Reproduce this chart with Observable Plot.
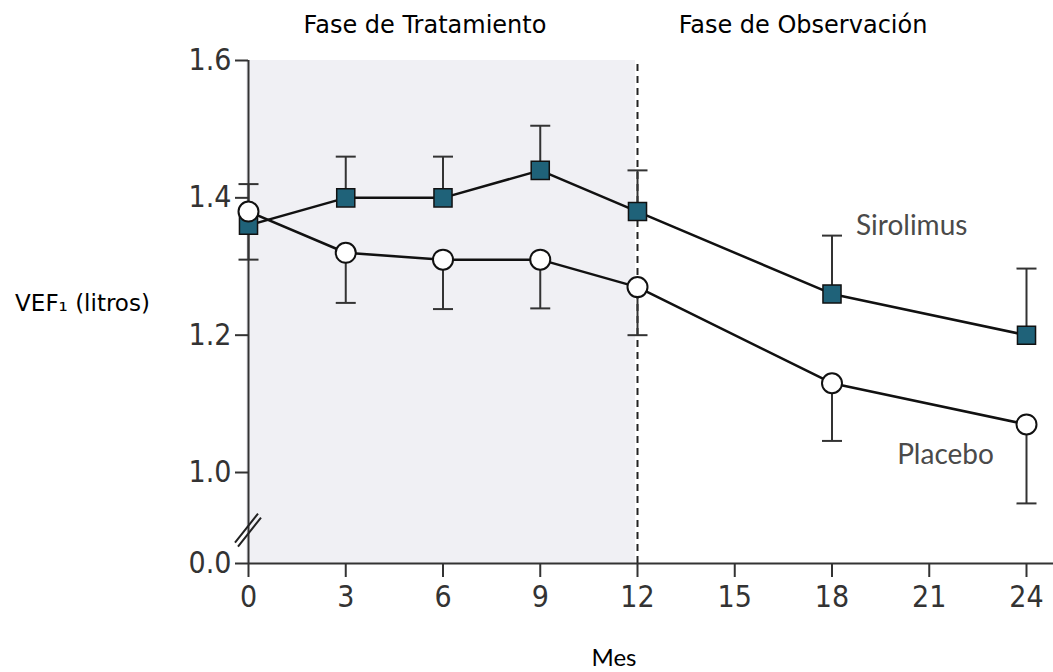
<!DOCTYPE html>
<html>
<head>
<meta charset="utf-8">
<script src="https://cdn.jsdelivr.net/npm/d3@7"></script>
<script src="https://cdn.jsdelivr.net/npm/@observablehq/plot@0.6"></script>
<style>
  html, body { margin: 0; padding: 0; background: #fff; }
  #chart svg { display: block; overflow: visible; }
</style>
</head>
<body>
<div id="chart"></div>
<script>
// ---- data ----
const months = [0, 3, 6, 9, 12, 18, 24];
const sirolimus = [1.36, 1.40, 1.40, 1.44, 1.38, 1.26, 1.20];
const sirolimusUpper = [1.42, 1.46, 1.46, 1.505, 1.44, 1.345, 1.297];
const placebo = [1.38, 1.32, 1.31, 1.31, 1.27, 1.13, 1.07];
const placeboLower = [1.31, 1.247, 1.238, 1.239, 1.20, 1.046, 0.955];

const xTicks = [0, 3, 6, 9, 12, 15, 18, 21, 24];
const yTicks = [1.0, 1.2, 1.4, 1.6];
const yBase = 0.8675;          // position of the broken-axis "0.0" tick
const yBreak = 0.917;          // where the axis-break mark sits
const treatmentEnd = 12;

const phaseLabels = ["Fase de Tratamiento", "Fase de Observación"];
const seriesNames = ["Sirolimus", "Placebo"];
const yLabel = "VEF\u2081 (litros)";
const xLabel = "Mes";

// ---- tables ----
const sRows = months.map((m, i) => ({month: m, value: sirolimus[i], bar: sirolimusUpper[i]}));
const pRows = months.map((m, i) => ({month: m, value: placebo[i], bar: placeboLower[i]}));

const capSymbol = {
  draw(context, size) {
    const r = Math.sqrt(size / Math.PI);
    context.moveTo(-r, 0);
    context.lineTo(r, 0);
  }
};
const breakSymbol = {
  draw(context, size) {
    const r = Math.sqrt(size / Math.PI) / 14;
    context.moveTo(-13.5 * r, 13 * r); context.lineTo(9.5 * r, -16 * r);
    context.moveTo(-10.5 * r, 17 * r); context.lineTo(12.5 * r, -12 * r);
  }
};

const tickFont = "'Liberation Sans Narrow', 'DejaVu Sans Condensed', sans-serif";
const labelFont = "Lato, 'Open Sans', sans-serif";
const textFont = "'DejaVu Sans', sans-serif";

const chart = Plot.plot({
  width: 1053,
  height: 672,
  marginTop: 60,
  marginBottom: 109,
  marginLeft: 248,
  marginRight: 0,
  x: {domain: [0, 24], range: [248, 1026]},
  y: {domain: [yBase, 1.6]},
  style: {background: "#fff"},
  marks: [
    // treatment phase shading
    Plot.rect([treatmentEnd], {x1: 0, x2: d => d, y1: yBase, y2: 1.6, fill: "#f0f0f4", dx: -2}),
    // phase divider
    Plot.ruleX([treatmentEnd], {y1: yBase, y2: 1.6, stroke: "#222", strokeWidth: 2, strokeDasharray: "7,5"}),
    // axes lines
    Plot.ruleY([yBase], {stroke: "#333", strokeWidth: 2}),
    Plot.ruleX([0], {y1: yBase, y2: 1.6, stroke: "#333", strokeWidth: 2}),
    Plot.dot([yBreak], {x: 0, y: d => d, symbol: breakSymbol, r: 14, fill: "none", stroke: "#222", strokeWidth: 2}),
    Plot.axisY([yBase, ...yTicks], {
      tickFormat: d => d === yBase ? "0.0" : d.toFixed(1),
      tickSize: 13, tickPadding: 4, fontSize: 30, fontFamily: tickFont,
      color: "#333", strokeWidth: 2, label: null
    }),
    Plot.axisX(xTicks, {
      tickSize: 14, tickPadding: 8, fontSize: 30, fontFamily: tickFont,
      color: "#333", strokeWidth: 2, label: null
    }),
    // error bars
    Plot.link(sRows, {x1: "month", x2: "month", y1: "value", y2: "bar", stroke: "#333", strokeWidth: 2}),
    Plot.link(pRows, {x1: "month", x2: "month", y1: "value", y2: "bar", stroke: "#333", strokeWidth: 2}),
    Plot.dot(sRows, {x: "month", y: "bar", symbol: capSymbol, r: 10, fill: "none", stroke: "#333", strokeWidth: 2}),
    Plot.dot(pRows, {x: "month", y: "bar", symbol: capSymbol, r: 10, fill: "none", stroke: "#333", strokeWidth: 2}),
    // lines
    Plot.line(sRows, {x: "month", y: "value", stroke: "#111", strokeWidth: 2.5}),
    Plot.line(pRows, {x: "month", y: "value", stroke: "#111", strokeWidth: 2.5}),
    // markers
    Plot.dot(sRows, {x: "month", y: "value", symbol: "square", r: 10.2, fill: "#1f6279", stroke: "#111", strokeWidth: 1.5}),
    Plot.dot(pRows, {x: "month", y: "value", r: 10, fill: "white", stroke: "#111", strokeWidth: 2}),
    // series labels
    Plot.text([sRows[5]], {x: "month", y: "value", text: () => seriesNames[0], textAnchor: "start", dx: 24, dy: -68,
      fontSize: 28, fontFamily: labelFont, fill: "#4a4a4a"}),
    Plot.text([pRows[6]], {x: "month", y: "value", text: () => seriesNames[1], textAnchor: "middle", dx: -81, dy: 31,
      fontSize: 28, fontFamily: labelFont, fill: "#4a4a4a"}),
    // phase labels
    Plot.text([phaseLabels[0]], {x: 6, frameAnchor: "top", dx: -18, dy: -35, text: d => d,
      fontSize: 24, fontFamily: textFont, fill: "#000", textAnchor: "middle", lineAnchor: "middle"}),
    Plot.text([phaseLabels[1]], {x: 18, frameAnchor: "top", dx: -29, dy: -35, text: d => d,
      fontSize: 24, fontFamily: textFont, fill: "#000", textAnchor: "middle", lineAnchor: "middle"}),
    // axis titles
    Plot.text([yLabel], {frameAnchor: "left", dx: -166, dy: -8, text: d => d,
      fontSize: 23, fontFamily: textFont, fill: "#000", textAnchor: "middle", lineAnchor: "middle"}),
    Plot.text([xLabel], {frameAnchor: "bottom", dx: -37, dy: 95, text: d => d,
      fontSize: 24, fontFamily: labelFont, fill: "#000", textAnchor: "middle", lineAnchor: "middle"})
  ]
});
document.getElementById("chart").appendChild(chart);
</script>
</body>
</html>
